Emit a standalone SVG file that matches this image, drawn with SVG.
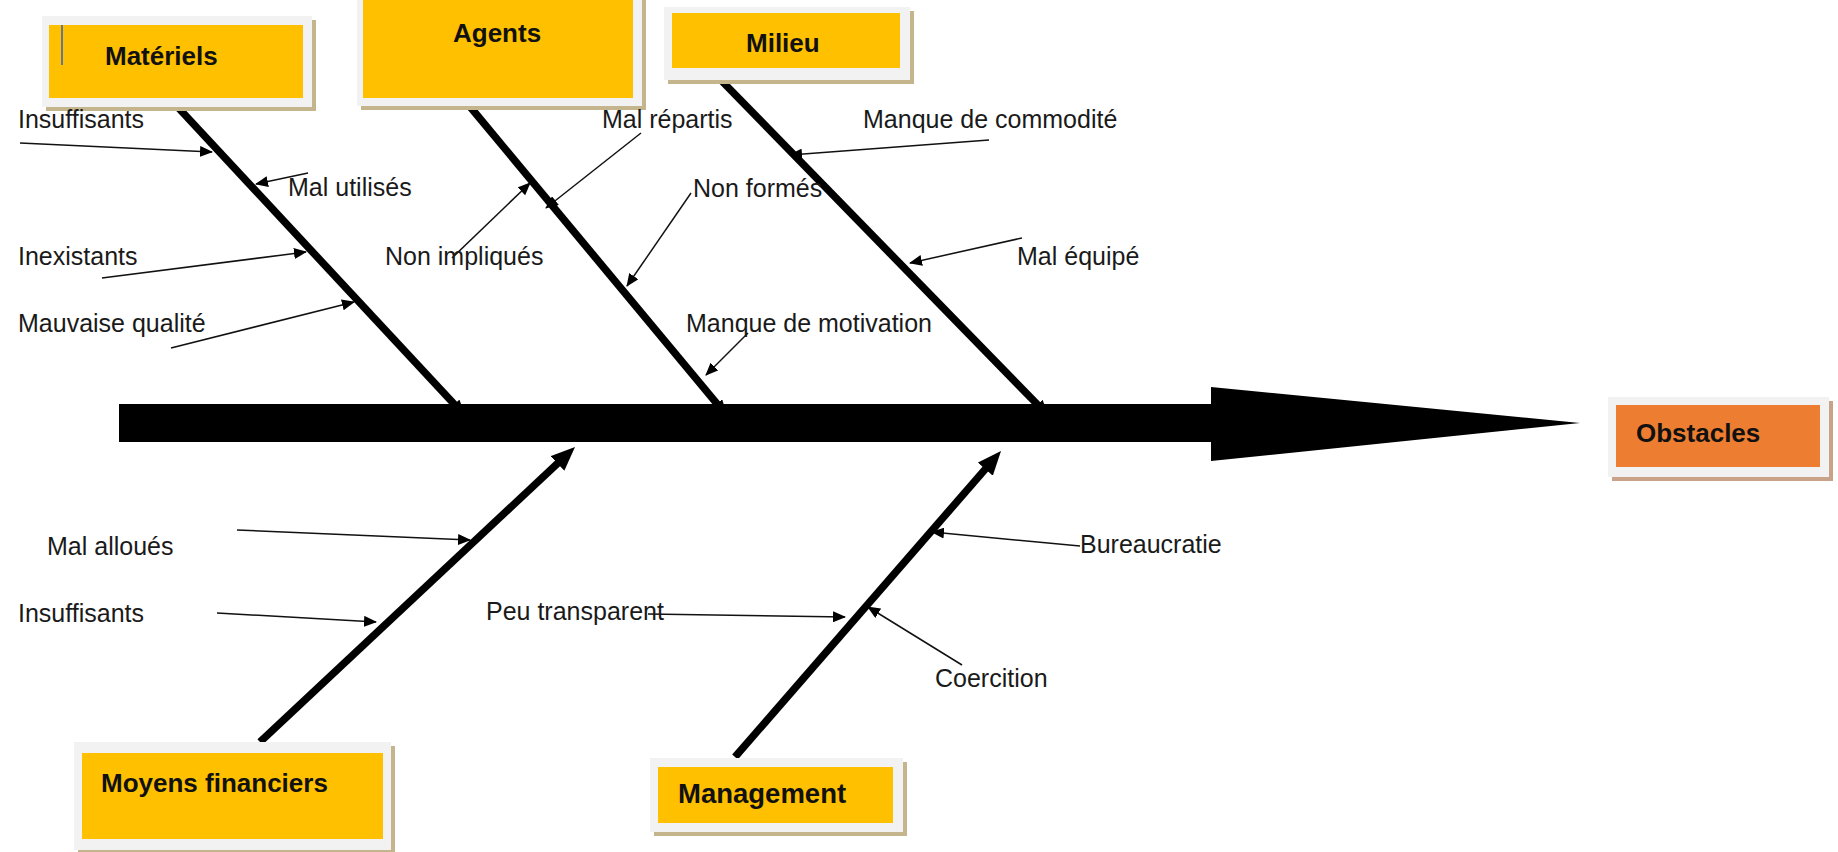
<svg xmlns="http://www.w3.org/2000/svg" width="1838" height="852" viewBox="0 0 1838 852">
  <defs>
    <!-- small arrowhead for the sub-cause lines -->
    <marker id="tip" markerUnits="userSpaceOnUse" markerWidth="13" markerHeight="11" viewBox="0 0 13 11" refX="12" refY="5.5" orient="auto">
      <path d="M0,0 L13,5.5 L0,11 z" fill="#000"/>
    </marker>
    <!-- head where an upper bone meets the spine -->
    <marker id="boneTip" markerUnits="userSpaceOnUse" markerWidth="16" markerHeight="14" viewBox="0 0 16 14" refX="2" refY="7" orient="auto">
      <path d="M0,0 L16,7 L0,14 z" fill="#000"/>
    </marker>
    <!-- large head for the lower bones -->
    <marker id="bigTip" markerUnits="userSpaceOnUse" markerWidth="24" markerHeight="20" viewBox="0 0 24 20" refX="4" refY="10" orient="auto">
      <path d="M0,0 L24,10 L0,20 z" fill="#000"/>
    </marker>
  </defs>
  <style>
    .bg { fill: #ffffff; }
    .frame { fill: #f2f2f2; }
    .shadow { fill: #c4b58c; }
    .shadowO { fill: #c9a28a; }
    .yellow { fill: #ffc000; }
    .orange { fill: #ed7d31; }
    .title { font-family: "Liberation Sans", Arial, sans-serif; font-weight: bold; font-size: 26px; fill: #111; }
    .cause { font-family: "Liberation Sans", Arial, sans-serif; font-size: 25px; fill: #1a1a1a; }
    .bone { stroke: #000; stroke-width: 7.5; fill: none; }
    .sub { stroke: #111; stroke-width: 1.5; fill: none; marker-end: url(#tip); }
  </style>

  <rect class="bg" x="0" y="0" width="1838" height="852"/>

  <!-- main spine with its head -->
  <g id="spine">
    <rect x="119" y="404" width="1094" height="38" fill="#000"/>
    <polygon points="1211,387 1211,461 1580,423" fill="#000"/>
  </g>

  <!-- bones and sub-cause arrows -->
  <g id="connectors">
    <line class="bone" x1="173" y1="102" x2="455.7" y2="405.8" marker-end="url(#boneTip)"/>
    <line class="bone" x1="467" y1="103" x2="718.1" y2="405.2" marker-end="url(#boneTip)"/>
    <line class="bone" x1="715" y1="74" x2="1038.9" y2="406" marker-end="url(#boneTip)"/>
    <line class="bone" x1="260" y1="742" x2="560.4" y2="460.7" marker-end="url(#bigTip)"/>
    <line class="bone" x1="735" y1="757" x2="987.9" y2="466.1" marker-end="url(#bigTip)"/>

    <line class="sub" x1="20" y1="143" x2="212" y2="152"/>
    <line class="sub" x1="308" y1="173" x2="256" y2="184"/>
    <line class="sub" x1="102" y1="278" x2="306" y2="252"/>
    <line class="sub" x1="171" y1="348" x2="354" y2="302"/>
    <line class="sub" x1="452" y1="258" x2="530" y2="183"/>
    <line class="sub" x1="641" y1="133" x2="546" y2="208"/>
    <line class="sub" x1="691" y1="193" x2="627" y2="286"/>
    <line class="sub" x1="989" y1="140" x2="790" y2="155"/>
    <line class="sub" x1="1022" y1="238" x2="910" y2="263"/>
    <line class="sub" x1="748" y1="333" x2="706" y2="375"/>
    <line class="sub" x1="237" y1="530" x2="470" y2="540"/>
    <line class="sub" x1="217" y1="613" x2="376" y2="622"/>
    <line class="sub" x1="648" y1="614" x2="845" y2="617"/>
    <line class="sub" x1="1080" y1="546" x2="932" y2="532"/>
    <line class="sub" x1="962" y1="665" x2="868" y2="607"/>
  </g>

  <!-- category boxes -->
  <g id="materiels">
    <rect class="shadow" x="46" y="20" width="270" height="91"/>
    <rect class="frame" x="42" y="16" width="270" height="91"/>
    <rect class="yellow" x="49" y="25" width="254" height="73"/>
    <line x1="62" y1="25" x2="62" y2="65" stroke="#3060c8" stroke-width="1.5"/>
    <text class="title" x="105" y="65">Matériels</text>
  </g>

  <g id="agents">
    <rect class="shadow" x="361" y="-6" width="285" height="116"/>
    <rect class="frame" x="357" y="-10" width="285" height="116"/>
    <rect class="yellow" x="363" y="-5" width="270" height="103"/>
    <text class="title" x="453" y="42">Agents</text>
  </g>

  <g id="milieu">
    <rect class="shadow" x="668" y="11" width="246" height="73"/>
    <rect class="frame" x="664" y="7" width="246" height="73"/>
    <rect class="yellow" x="672" y="13" width="228" height="55"/>
    <text class="title" x="746" y="52">Milieu</text>
  </g>

  <g id="obstacles">
    <rect class="shadowO" x="1612" y="401" width="221" height="80"/>
    <rect class="frame" x="1608" y="397" width="221" height="80"/>
    <rect class="orange" x="1616" y="405" width="204" height="62"/>
    <text class="title" x="1636" y="442">Obstacles</text>
  </g>

  <g id="moyens-financiers">
    <rect class="shadow" x="78" y="746" width="317" height="108"/>
    <rect class="frame" x="74" y="742" width="317" height="108"/>
    <rect class="yellow" x="82" y="753" width="301" height="86"/>
    <text class="title" x="101" y="792">Moyens financiers</text>
  </g>

  <g id="management">
    <rect class="shadow" x="654" y="762" width="253" height="74"/>
    <rect class="frame" x="650" y="758" width="253" height="74"/>
    <rect class="yellow" x="658" y="767" width="235" height="56"/>
    <text class="title" x="678" y="803" style="font-size:27.5px">Management</text>
  </g>

  <!-- cause labels -->
  <g id="labels">
    <text class="cause" x="18" y="128">Insuffisants</text>
    <text class="cause" x="288" y="196">Mal utilisés</text>
    <text class="cause" x="18" y="265">Inexistants</text>
    <text class="cause" x="18" y="332">Mauvaise qualité</text>
    <text class="cause" x="385" y="265">Non impliqués</text>
    <text class="cause" x="602" y="128">Mal répartis</text>
    <text class="cause" x="693" y="197">Non formés</text>
    <text class="cause" x="863" y="128">Manque de commodité</text>
    <text class="cause" x="1017" y="265">Mal équipé</text>
    <text class="cause" x="686" y="332">Manque de motivation</text>
    <text class="cause" x="47" y="555">Mal alloués</text>
    <text class="cause" x="18" y="622">Insuffisants</text>
    <text class="cause" x="486" y="620">Peu transparent</text>
    <text class="cause" x="1080" y="553">Bureaucratie</text>
    <text class="cause" x="935" y="687">Coercition</text>
  </g>
</svg>
